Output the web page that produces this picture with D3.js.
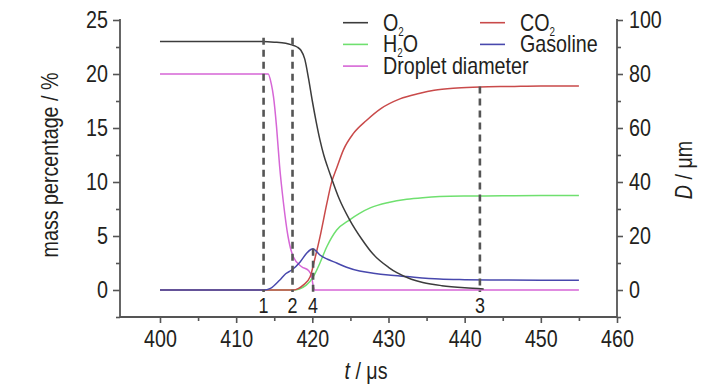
<!DOCTYPE html>
<html><head><meta charset="utf-8">
<script src="https://cdn.jsdelivr.net/npm/d3@7"></script>
<style>
html,body{margin:0;padding:0;background:#fff;}
svg text{font-family:"Liberation Sans",Arial,sans-serif;fill:#231f20;}
</style></head>
<body><svg id="c" width="728" height="390"></svg>
<script>
// ---- data ----
const o2T = [400, 413.5, 415, 416.5, 417.3, 418, 418.5, 419, 419.5, 420, 420.5, 421, 421.5, 422, 422.5, 423.5, 424.9, 426.5, 428, 430, 431.1, 433, 434.5, 437, 440, 442.5];
const o2V = [23.0, 23.0, 22.95, 22.85, 22.7, 22.5, 22.2, 21.4, 19.6, 17.5, 15.6, 13.9, 12.5, 11.4, 10.4, 8.5, 6.5, 4.7, 3.3, 2.1, 1.6, 1.0, 0.7, 0.4, 0.2, 0.1];
const co2T = [400, 417.5, 418.2, 418.8, 419.7, 420.3, 421, 421.9, 422.5, 423.2, 424.1, 425.4, 427.1, 429, 431.5, 434, 436, 439, 442, 446, 450, 455];
const co2V = [0, 0, 0.15, 0.45, 1.2, 2.8, 4.9, 8.0, 9.9, 11.3, 13.0, 14.5, 15.7, 16.8, 17.7, 18.2, 18.5, 18.7, 18.8, 18.85, 18.9, 18.9];
const h2oT = [400, 417.5, 418.3, 419.2, 420.1, 421, 421.9, 423.2, 424.9, 426.2, 427.6, 430, 432.4, 434.5, 436.7, 440, 445, 450, 455];
const h2oV = [0, 0, 0.1, 0.45, 1.2, 2.5, 4.0, 5.55, 6.5, 7.1, 7.6, 8.1, 8.4, 8.55, 8.65, 8.7, 8.72, 8.75, 8.75];
const gasT = [400, 413.6, 414.5, 415.7, 416.5, 417.3, 418.4, 419.25, 419.8, 420.1, 420.5, 421, 422, 423.2, 424.5, 426.2, 428, 430, 432.4, 436.7, 440, 445, 450, 455];
const gasV = [0, 0, 0.15, 0.9, 1.5, 1.85, 2.6, 3.4, 3.75, 3.82, 3.6, 3.24, 2.85, 2.5, 2.1, 1.75, 1.55, 1.38, 1.24, 1.02, 0.96, 0.92, 0.9, 0.9];
const dropT = [400, 414.2, 414.6, 414.9, 415.3, 415.7, 416.2, 416.8, 417.5, 418.6, 419.5, 419.9, 420.15, 420.3, 455];
const dropD = [80, 80, 76.5, 71.6, 60.5, 46, 32.5, 20, 12.3, 8.6, 7.2, 5, 1, 0, 0];

const xTicks = [400, 410, 420, 430, 440, 450, 460];
const xMinor = [405, 415, 425, 435, 445, 455];
const yTicks = [0, 5, 10, 15, 20, 25];
const yMinor = [-2.5, 2.5, 7.5, 12.5, 17.5, 22.5];
const rTicks = [0, 20, 40, 60, 80, 100];
const rMinor = [-10, 10, 30, 50, 70, 90];

const markerT = [413.6, 417.4, 420.1, 442];
const markerTop = [23.35, 23.35, 3.82, 18.85];
const markerLab = ["1", "2", "4", "3"];

// ---- scales ----
const svg = d3.select("#c");
const x = d3.scaleLinear().domain([394.75, 460]).range([120, 617]);
const y = d3.scaleLinear().domain([-2.5, 25]).range([317, 20]);
const yr = d3.scaleLinear().domain([-10, 100]).range([317, 20]);

const axisCol = "#555";
const fs = 24;

function styleAxis(g){
  g.select(".domain").remove();
  g.selectAll("line").attr("stroke", axisCol).attr("stroke-width", 1.6);
  g.selectAll("text").attr("font-size", fs).attr("fill", "#231f20")
    .style("font-family", '"Liberation Sans",Arial,sans-serif');
}

// bottom axis
svg.append("g").attr("transform", "translate(0,317)")
  .call(d3.axisBottom(x).tickValues(xMinor).tickSize(4).tickFormat(""))
  .call(styleAxis);
svg.append("g").attr("transform", "translate(0,317)")
  .call(d3.axisBottom(x).tickValues(xTicks).tickSize(6).tickPadding(7).tickFormat(d3.format("d")))
  .call(styleAxis);
// left axis
svg.append("g").attr("transform", "translate(120,0)")
  .call(d3.axisLeft(y).tickValues(yMinor).tickSize(4).tickFormat(""))
  .call(styleAxis);
svg.append("g").attr("transform", "translate(120,0)")
  .call(d3.axisLeft(y).tickValues(yTicks).tickSize(7).tickPadding(5).tickFormat(d3.format("d")))
  .call(styleAxis);
// right axis
svg.append("g").attr("transform", "translate(617,0)")
  .call(d3.axisRight(yr).tickValues(rMinor).tickSize(4).tickFormat(""))
  .call(styleAxis);
svg.append("g").attr("transform", "translate(617,0)")
  .call(d3.axisRight(yr).tickValues(rTicks).tickSize(6).tickPadding(6).tickFormat(d3.format("d")))
  .call(styleAxis);

// axis lines
svg.append("line").attr("x1", 120).attr("x2", 617).attr("y1", 317).attr("y2", 317).attr("stroke", axisCol).attr("stroke-width", 1.8);
svg.append("line").attr("x1", 120).attr("x2", 120).attr("y1", 19).attr("y2", 317).attr("stroke", axisCol).attr("stroke-width", 1.8);
svg.append("line").attr("x1", 617).attr("x2", 617).attr("y1", 19).attr("y2", 317).attr("stroke", axisCol).attr("stroke-width", 1.8);

// axis titles
svg.append("text").attr("transform", "translate(58,165) rotate(-90)").attr("text-anchor", "middle")
  .attr("font-size", fs).text("mass percentage / %");
const xt = svg.append("text").attr("x", 366).attr("y", 379).attr("text-anchor", "middle").attr("font-size", fs);
xt.append("tspan").attr("font-style", "italic").text("t");
xt.append("tspan").text(" / μs");
const rt = svg.append("text").attr("transform", "translate(692,170) rotate(-90)").attr("text-anchor", "middle").attr("font-size", fs);
rt.append("tspan").attr("font-style", "italic").text("D");
rt.append("tspan").text(" / μm");

// series
const series = [
  {name: "O2", t: o2T, v: o2V, sc: y, col: "#3c3c3c"},
  {name: "CO2", t: co2T, v: co2V, sc: y, col: "#c94a4a"},
  {name: "H2O", t: h2oT, v: h2oV, sc: y, col: "#6fe06f"},
  {name: "Gasoline", t: gasT, v: gasV, sc: y, col: "#4848ad"},
  {name: "Droplet", t: dropT, v: dropD, sc: yr, col: "#d666d6"}
];
const drawOrder = [4, 2, 1, 3, 0];
drawOrder.forEach(i => {
  const s = series[i];
  const pts = s.t.map((t, k) => [t, s.v[k]]);
  const line = d3.line().x(d => x(d[0])).y(d => s.sc(d[1])).curve(d3.curveMonotoneX);
  svg.append("path").attr("d", line(pts)).attr("fill", "none").attr("stroke", s.col).attr("stroke-width", 1.5);
});

// dashed markers
markerT.forEach((t, i) => {
  svg.append("line").attr("x1", x(t)).attr("x2", x(t)).attr("y1", y(markerTop[i])).attr("y2", y(0) + 2)
    .attr("stroke", "#555").attr("stroke-width", 2.6).attr("stroke-dasharray", "7,5");
  svg.append("text").attr("x", x(t)).attr("y", 313).attr("text-anchor", "middle").attr("font-size", 22).text(markerLab[i]);
});

// legend
const leg = [
  {lab: ["O", "2", ""], col: "#3c3c3c", lx: 343, row: 0},
  {lab: ["CO", "2", ""], col: "#c94a4a", lx: 480, row: 0},
  {lab: ["H", "2", "O"], col: "#6fe06f", lx: 343, row: 1},
  {lab: ["Gasoline", "", ""], col: "#4848ad", lx: 480, row: 1},
  {lab: ["Droplet diameter", "", ""], col: "#d666d6", lx: 343, row: 2}
];
leg.forEach(l => {
  const ly = 22.7 + l.row * 21.7;
  svg.append("line").attr("x1", l.lx).attr("x2", l.lx + 25).attr("y1", ly).attr("y2", ly).attr("stroke", l.col).attr("stroke-width", 1.6);
  const tx = svg.append("text").attr("x", l.lx + 40).attr("y", ly + 8).attr("font-size", fs);
  tx.append("tspan").text(l.lab[0]);
  if (l.lab[1]) tx.append("tspan").attr("font-size", 12).attr("dy", 5).text(l.lab[1]);
  if (l.lab[2]) tx.append("tspan").attr("dy", -5).text(l.lab[2]);
});

// condense all text horizontally (reference uses a narrow sans face)
svg.selectAll("text").each(function(){
  const len = this.getComputedTextLength();
  if (len > 0) {
    d3.select(this).attr("textLength", (len * 0.82).toFixed(1)).attr("lengthAdjust", "spacingAndGlyphs");
  }
});
</script></body></html>
